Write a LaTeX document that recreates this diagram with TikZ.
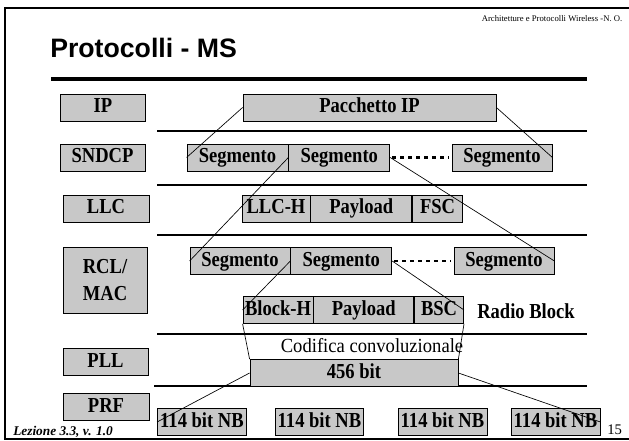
\documentclass[tikz,border=0pt]{standalone}
\usepackage{fontspec}
\setmainfont{Liberation Serif}
\newfontfamily\headsans{Liberation Sans}
\newfontfamily\boxfont[FakeStretch=0.87]{Liberation Serif}
\newfontfamily\codfont[FakeStretch=0.93]{Liberation Serif}
\usepackage{tikz}
\usetikzlibrary{positioning}
\definecolor{boxgray}{RGB}{200,200,200}
\tikzset{
  pbox/.style={draw=black, line width=0.6pt, fill=boxgray, inner sep=0pt,
    minimum height=27*0.75pt, text height=10.6pt, text depth=2.6pt,
    font=\boxfont\fontsize{16}{17}\selectfont\bfseries},
  bw/.style={minimum width=#1*0.75pt},
  lrule/.style={line width=1.9pt},
  dotline/.style={line width=2.2pt, dash pattern=on 3pt off 3pt,
    shorten <=1.5pt, shorten >=2pt},
  diag/.style={line width=0.5pt}
}

\begin{document}
\begin{tikzpicture}[x=0.75pt,y=0.75pt,yscale=-1,xscale=1]
\useasboundingbox (0,0) rectangle (629,441);

%Frame
\draw [line width=2pt] (629,8) -- (5,8) -- (5,439) -- (629,439) ;

% Text Node
\node [anchor=east, font=\fontsize{6.5}{7}\selectfont] (head) at (627,19) {Architetture e Protocolli Wireless -N. O.};
% Text Node
\node [anchor=west, inner sep=0pt, font=\headsans\fontsize{20}{22}\selectfont\bfseries] (title) at (50,48) {Protocolli - MS};
%Straight Lines
\draw [line width=2.3pt] (51,79) -- (587,79) ;

%Straight Lines (layer rules)
\draw [lrule] (157,131) -- (587,131) ;
\draw [lrule] (157,185) -- (587,185) ;
\draw [lrule] (157,235) -- (587,235) ;
\draw [lrule] (157,334) -- (587,334) ;
\draw [lrule] (154,386) -- (587,386) ;

%Shape: Rectangle (layers)
\node [pbox, bw=85] (lip) at (103,107.5) {IP};
\node [pbox, bw=85] (lsndcp) at (102.5,157.5) {SNDCP};
\node [pbox, bw=86] (lllc) at (106,208.5) {LLC};
\node [pbox, bw=84, minimum height=66*0.75pt, text height={}, text depth={},
  align=center, font=\boxfont\fontsize{16}{20}\selectfont\bfseries] (lrcl) at (105,280) {RCL/\\MAC};
\node [pbox, bw=85] (lpll) at (105.5,362) {PLL};
\node [pbox, bw=86] (lprf) at (106,407) {PRF};

%Shape: Rectangle (IP)
\node [pbox, bw=253] (pkt) at (369.5,107.5) {Pacchetto IP};

%Shape: Rectangle (SNDCP)
\node [pbox, bw=101] (seg1) at (237.5,157.5) {Segmento};
\node [pbox, bw=101, right=0pt of seg1] (seg2) {Segmento};
\node [pbox, bw=100] (seg3) at (502,157.5) {Segmento};

%Shape: Rectangle (LLC)
\node [pbox, bw=68] (llch) at (276,208.5) {LLC-H};
\node [pbox, bw=101, right=0pt of llch] (llcpl) {Payload};
\node [pbox, bw=50, right=0pt of llcpl] (fsc) {FSC};

%Shape: Rectangle (RCL/MAC)
\node [pbox, bw=100] (rseg1) at (240,261) {Segmento};
\node [pbox, bw=101, right=0pt of rseg1] (rseg2) {Segmento};
\node [pbox, bw=100] (rseg3) at (504,261) {Segmento};

\node [pbox, bw=70] (blkh) at (278,310) {Block-H};
\node [pbox, bw=100, right=0pt of blkh] (blkpl) {Payload};
\node [pbox, bw=49, right=0pt of blkpl] (bsc) {BSC};
% Text Node
\node [anchor=west, inner sep=0pt, font=\boxfont\fontsize{16}{17}\selectfont\bfseries] (radio) at (477,311) {Radio Block};

%PLL
% Text Node
\node [font=\codfont\fontsize{15}{16}\selectfont, inner sep=0pt] (codif) at (372,346) {Codifica convoluzionale};
\node [pbox, bw=208] (bit) at (354,373) {456 bit};

%PRF
\node [pbox, bw=89] (nb1) at (202,422) {114 bit NB};
\node [pbox, bw=88] (nb2) at (319.5,422) {114 bit NB};
\node [pbox, bw=89] (nb3) at (442.5,422) {114 bit NB};
\node [pbox, bw=89] (nb4) at (555.5,422) {114 bit NB};

%Dotted Lines
\draw [dotline] (seg2.east) -- (seg3.west) ;
\draw [dotline] (rseg2.east) -- (rseg3.west) ;

%Straight Lines (mapping)
\draw [diag] (pkt.west) -- (seg1.west) ;
\draw [diag] (pkt.east) -- (seg3.east) ;
\draw [diag] (seg2.west) -- (rseg1.west) ;
\draw [diag] (seg2.east) -- (rseg3.east) ;
\draw [diag] (rseg2.west) -- (blkh.west) ;
\draw [diag] (rseg2.east) -- (bsc.east) ;
\draw [diag] (blkh.south west) -- (bit.north west) ;
\draw [diag] (bsc.south east) -- (bit.north east) ;
\draw [diag] (bit.west) -- (nb1.west) ;
\draw [diag] (bit.east) -- (nb4.east) ;

% Text Node
\node [anchor=west, inner sep=0pt, font=\fontsize{10}{11}\selectfont\bfseries\itshape] (lez) at (13,432) {Lezione 3.3, v. 1.0};
% Text Node
\node [anchor=west, inner sep=0pt, font=\fontsize{11}{12}\selectfont] (pagen) at (607,430) {15};

\end{tikzpicture}
\end{document}
